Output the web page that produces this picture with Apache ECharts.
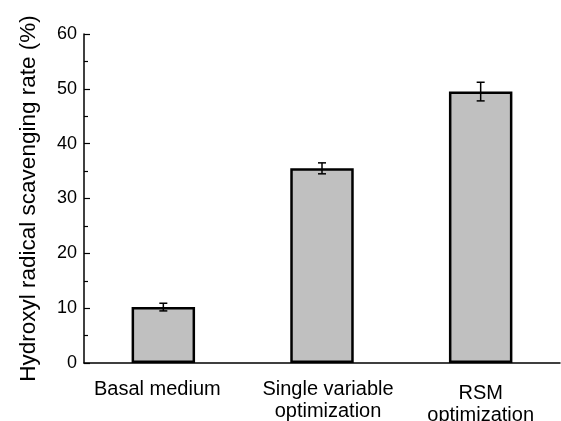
<!DOCTYPE html>
<html><head><meta charset="utf-8">
<script src="https://cdn.jsdelivr.net/npm/echarts@6/dist/echarts.min.js"></script>
<style>html,body{margin:0;padding:0;background:#fff}#c{width:561px;height:421px}</style>
</head><body><div id="c"></div>
<script>
const categories = ['Basal medium', 'Single variable\noptimization', 'RSM\noptimization'];
const values = [10.2, 35.5, 49.5];
const errors = [0.7, 1.0, 1.7];
const yTicks = {min: 0, max: 60, interval: 10};
const yName = 'Hydroxyl radical scavenging rate (%)';

const F = 'Liberation Sans, Arial, sans-serif';
const labelPads = [[0, 12, 0, 0], [0, 0, 0, 12], [4, 0, 0, 0]];
const catData = categories.map((c, i) => ({value: c, textStyle: {padding: labelPads[i]}}));
const chart = echarts.init(document.getElementById('c'));
chart.setOption({
  animation: false,
  grid: {left: 84, right: 1, top: 34, bottom: 58, outerBoundsMode: 'none', containLabel: false},
  xAxis: [{
    type: 'category', data: catData,
    axisLine: {lineStyle: {color: '#000', width: 1.5}},
    axisTick: {alignWithLabel: true, length: 5, lineStyle: {color: '#000', width: 1.5}},
    axisLabel: {color: '#000', fontFamily: F, fontSize: 20, lineHeight: 22, margin: 15, interval: 0, hideOverlap: false}
  }, {
    type: 'category', data: categories, position: 'bottom',
    axisLine: {show: false},
    axisTick: {length: 3, interval: 0, lineStyle: {color: '#000', width: 1.2}},
    axisLabel: {show: false}
  }],
  yAxis: {
    type: 'value', min: yTicks.min, max: yTicks.max, interval: yTicks.interval,
    name: yName, nameLocation: 'middle', nameGap: 44,
    nameTextStyle: {color: '#000', fontFamily: F, fontSize: 22.5},
    axisLine: {show: true, lineStyle: {color: '#000', width: 1.5}},
    axisTick: {show: true, inside: true, length: 6, lineStyle: {color: '#000', width: 1.2}},
    minorTick: {show: true, splitNumber: 2, length: 4, lineStyle: {color: '#000', width: 1.2}},
    splitLine: {show: false},
    axisLabel: {color: '#000', fontFamily: F, fontSize: 18, margin: 7}
  },
  series: [{
    type: 'bar', data: values, barWidth: '40%',
    itemStyle: {color: '#c0c0c0', borderColor: '#000', borderWidth: 2.5}
  }, {
    type: 'custom',
    data: values.map((v, i) => [i, v - errors[i], v + errors[i]]),
    z: 10,
    renderItem: function (params, api) {
      const lo = api.coord([api.value(0), api.value(1)]);
      const hi = api.coord([api.value(0), api.value(2)]);
      const w = 4;
      const st = {stroke: '#000', lineWidth: 1.5};
      return {type: 'group', children: [
        {type: 'line', shape: {x1: hi[0], y1: hi[1], x2: lo[0], y2: lo[1]}, style: st},
        {type: 'line', shape: {x1: hi[0] - w, y1: hi[1], x2: hi[0] + w, y2: hi[1]}, style: st},
        {type: 'line', shape: {x1: lo[0] - w, y1: lo[1], x2: lo[0] + w, y2: lo[1]}, style: st}
      ]};
    }
  }]
});
</script></body></html>
